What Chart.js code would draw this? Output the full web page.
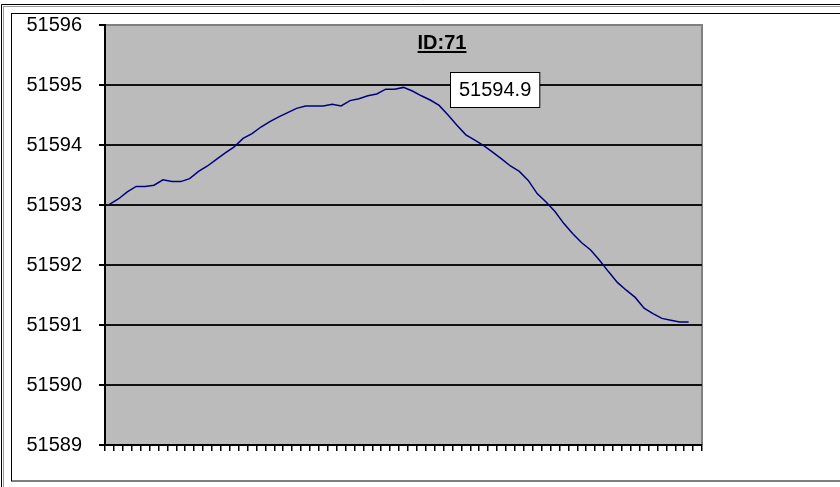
<!DOCTYPE html>
<html>
<head>
<meta charset="utf-8">
<script src="https://cdn.jsdelivr.net/npm/chart.js@4/dist/chart.umd.min.js"></script>
<style>
	html, body { margin: 0; padding: 0; background: #fff; }
	#wrap { width: 840px; height: 487px; position: relative; }
</style>
</head>
<body>
<div id="wrap"><canvas id="chart" width="840" height="487"></canvas></div>
<script>
// 67 category slots on the x axis, the last one is empty
const categories = Array.from({ length: 67 }, (_, i) => String(i + 1));
const values = [
	51593.01, 51593.10, 51593.22, 51593.31, 51593.31, 51593.33, 51593.42, 51593.39, 51593.39, 51593.44,
	51593.56, 51593.65, 51593.76, 51593.87, 51593.97, 51594.11, 51594.19, 51594.30, 51594.39, 51594.47,
	51594.54, 51594.61, 51594.65, 51594.65, 51594.65, 51594.68, 51594.65, 51594.74, 51594.77, 51594.82,
	51594.85, 51594.93, 51594.93, 51594.96, 51594.90, 51594.82, 51594.75, 51594.66, 51594.50, 51594.33,
	51594.17, 51594.08, 51593.99, 51593.88, 51593.77, 51593.65, 51593.56, 51593.41, 51593.19, 51593.05,
	51592.89, 51592.69, 51592.52, 51592.37, 51592.25, 51592.08, 51591.89, 51591.71, 51591.58, 51591.46,
	51591.28, 51591.19, 51591.11, 51591.08, 51591.05, 51591.05
];
const yMin = 51589;
const yMax = 51596;
const titleText = "ID:71";

const FONT = "'Liberation Sans', Arial, sans-serif";

// frame, plot background, title and the max value callout
const decor = {
	id: "decor",
	beforeDraw(chart) {
		const c = chart.ctx;
		const a = chart.chartArea;
		c.save();
		c.fillStyle = "#fff";
		c.fillRect(0, 0, chart.width, chart.height);
		// outer double frame
		c.strokeStyle = "#000";
		c.lineWidth = 1;
		c.beginPath();
		c.moveTo(1.5, chart.height); c.lineTo(1.5, 4.5); c.lineTo(chart.width, 4.5);
		c.stroke();
		c.strokeStyle = "#999";
		c.beginPath();
		c.moveTo(3.5, chart.height); c.lineTo(3.5, 6.5); c.lineTo(chart.width, 6.5);
		c.stroke();
		// inner chart area box
		c.strokeStyle = "#000";
		c.strokeRect(11.5, 13.5, 900, 467.5);
		// plot area
		c.fillStyle = "#bbbbbb";
		c.fillRect(a.left, a.top, a.right - a.left, a.bottom - a.top);
		c.strokeStyle = "#808080";
		c.lineWidth = 2;
		c.beginPath();
		c.moveTo(a.left, a.top); c.lineTo(a.right, a.top); c.lineTo(a.right, a.bottom);
		c.stroke();
		c.restore();
	},
	afterDatasetsDraw(chart) {
		const c = chart.ctx;
		c.save();
		// title
		c.font = "bold 20px " + FONT;
		c.fillStyle = "#000";
		c.textAlign = "center";
		c.textBaseline = "middle";
		const tx = 442, ty = 43;
		c.fillText(titleText, tx, ty);
		const tw = c.measureText(titleText).width;
		c.fillRect(tx - tw / 2, ty + 8, tw, 2);
		// callout at the highest point
		let iMax = 0;
		values.forEach((v, i) => { if (v > values[iMax]) iMax = i; });
		const pt = chart.getDatasetMeta(0).data[iMax];
		const label = (Math.floor(values[iMax] * 10) / 10).toFixed(1);
		c.font = "20px " + FONT;
		const w = c.measureText(label).width + 17;
		const bx = Math.round(pt.x + 46) + 0.5;
		const by = Math.round(pt.y - 15) + 0.5;
		c.fillStyle = "#fff";
		c.fillRect(bx, by, w, 35);
		c.strokeStyle = "#000";
		c.lineWidth = 1;
		c.strokeRect(bx, by, w, 35);
		c.fillStyle = "#000";
		c.textAlign = "left";
		c.fillText(label, bx + 8.5, by + 18);
		c.restore();
	}
};

new Chart(document.getElementById("chart").getContext("2d"), {
	type: "line",
	data: {
		labels: categories,
		datasets: [{
			data: values,
			borderColor: "#000080",
			borderWidth: 1.5,
			pointRadius: 0,
			tension: 0,
			fill: false
		}]
	},
	options: {
		responsive: false,
		animation: false,
		layout: { padding: { top: 25, right: 138, bottom: 0, left: 0 } },
		plugins: {
			legend: { display: false },
			tooltip: { enabled: false }
		},
		scales: {
			x: {
				type: "category",
				offset: true,
				afterFit(scale) { scale.height = 42; },
				grid: {
					offset: true,
					drawOnChartArea: false,
					drawTicks: true,
					tickLength: 6,
					color: "#000",
					lineWidth: 1.5
				},
				border: { color: "#000", width: 2 },
				ticks: { display: false, autoSkip: false }
			},
			y: {
				min: yMin,
				max: yMax,
				afterFit(scale) {
					scale.width = 105;
					// labels fit inside the padding already
					scale.paddingTop = 0;
					scale.paddingBottom = 0;
				},
				grid: {
					color: (ctx) => (ctx.tick && ctx.tick.value === yMax ? "rgba(0,0,0,0)" : "#111"),
					tickColor: "#000",
					lineWidth: 2,
					tickLength: 6
				},
				border: { color: "#000", width: 2 },
				ticks: {
					stepSize: 1,
					padding: 17,
					color: "#000",
					font: { family: FONT, size: 20 },
					callback: (v) => String(v)
				}
			}
		}
	},
	plugins: [decor]
});
</script>
</body>
</html>
